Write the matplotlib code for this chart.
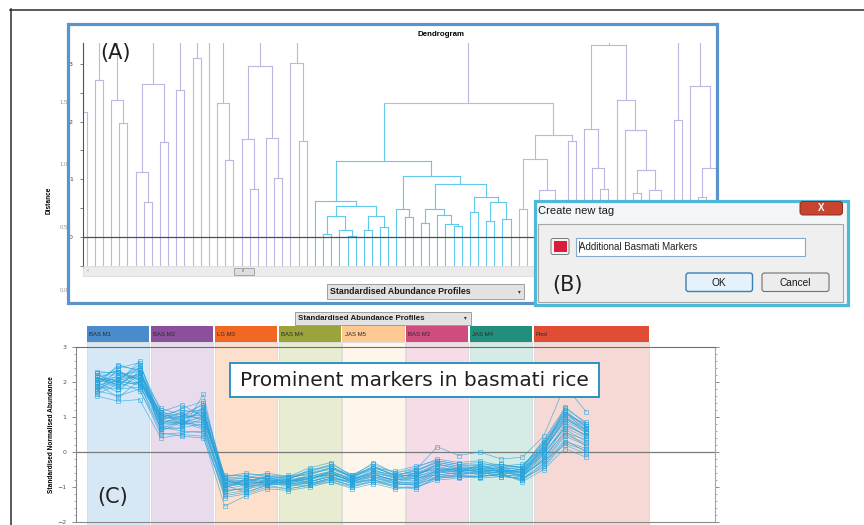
import matplotlib
matplotlib.use("Agg")
import matplotlib.pyplot as plt
import numpy as np
from matplotlib.patches import Rectangle, FancyBboxPatch
from matplotlib.ticker import MultipleLocator, FuncFormatter

# ---------------- data ----------------
# dendrogram: (merge height, left, right); ints are leaf positions, roots continue above the view
cyan_cluster = (1.32,
                (0.63, 28, (0.54, (0.37, (0.05, 29, 30), (0.13, 31, (0.02, 32, 33))),
                            (0.37, (0.13, 34, 35), (0.17, 36, 37)))),
                (1.06, (0.48, 38, (0.35, 39, 40)),
                 (0.92, (0.49, (0.25, 41, 42), (0.38, 43, (0.22, 44, (0.19, 45, 46)))),
                  (0.69, (0.44, 47, 48), (0.61, (0.27, 49, 50), (0.32, 51, 52))))))
right_cluster = (1.77, (1.36, (0.49, 53, 54), (0.81, (0.40, 55, 56), (0.35, 57, 58))),
                 (1.66, 59, 60))
dendro_roots = [
    (2.17, -1, 0),
    (2.72, 1, 2),
    (2.37, 3, (1.98, 4, 5)),
    (2.65, (1.12, 6, (0.60, 7, 8)), (1.65, 9, 10)),
    (2.54, 11, 12),
    (3.11, 13, 14),
    15,
    (2.33, 16, (1.33, 17, 18)),
    (2.96, (1.70, 19, (0.84, 20, 21)), (1.71, 22, (1.03, 23, 24))),
    (3.02, 25, (1.67, 26, 27)),
    (2.32, cyan_cluster, right_cluster),
    (3.33, (1.87, 61, (1.19, 62, (0.84, 63, 64))),
     (2.37, 65, (1.85, 66, (1.16, (0.77, 67, 68), (0.81, 69, (0.30, 70, 71)))))),
    (2.02, 72, 73),
    (2.62, 74, (1.19, (0.70, 75, 76), (0.50, 77, 78))),
]
highlight_leaves = range(28, 53)
dendro_ticks = [3, 2, 1, 0]

groups = ["BAS M1", "BAS M2", "LG M3", "BAS M4", "JAS M5", "BAS M3", "JAS M4", "Pool"]
group_edges = [0, 3, 6, 9, 12, 15, 18, 21, 26.5]
header_colors = ["#4a8bcb", "#8b4f9d", "#f26722", "#9aa43a", "#fdc891", "#cf4d7e", "#218f7c", "#e14c35"]
band_colors = ["#d6e8f5", "#e8dcec", "#fde0cc", "#e8ecd0", "#fef6ea", "#f5dce6", "#d4ebe6", "#f6d9d4"]
profile_ticks = [3, 2, 1, 0, -1, -2]

profiles = [
    [2.10, 2.05, 2.20, 0.95, 1.00, 1.05, -0.85, -0.80, -0.75, -0.80, -0.70, -0.55, -0.75, -0.60, -0.70, -0.65, -0.40, -0.55, -0.50, -0.55, -0.60, 0.05, 0.95, 0.60],
    [1.95, 2.30, 2.05, 1.10, 0.90, 1.20, -0.95, -0.90, -0.85, -0.90, -0.75, -0.65, -0.80, -0.55, -0.75, -0.70, -0.55, -0.45, -0.60, -0.50, -0.70, 0.20, 1.10, 0.75],
    [2.25, 1.85, 2.45, 0.80, 1.05, 0.95, -0.75, -1.00, -0.90, -0.75, -0.85, -0.70, -0.90, -0.75, -0.85, -0.80, -0.65, -0.60, -0.35, -0.60, -0.55, -0.10, 0.80, 0.45],
    [1.80, 2.10, 1.95, 1.20, 0.75, 1.30, -1.05, -0.75, -0.95, -0.85, -0.65, -0.45, -0.70, -0.45, -0.65, -0.55, -0.30, -0.40, -0.45, -0.35, -0.45, 0.35, 1.25, 0.85],
    [2.00, 1.70, 2.35, 0.60, 0.85, 0.75, -1.20, -1.10, -0.80, -0.95, -0.90, -0.80, -0.95, -0.85, -0.95, -0.90, -0.75, -0.70, -0.70, -0.65, -0.80, -0.30, 0.45, 0.20],
    [1.70, 2.40, 2.55, 0.95, 1.25, 1.45, -0.70, -0.65, -0.65, -0.70, -0.55, -0.35, -0.65, -0.35, -0.60, -0.45, -0.20, -0.30, -0.25, -0.40, -0.35, 0.10, 1.00, 0.65],
    [2.20, 2.00, 1.75, 0.70, 0.60, 0.55, -1.30, -1.20, -1.00, -1.05, -0.95, -0.75, -1.00, -0.80, -1.00, -1.05, -0.70, -0.65, -0.75, -0.70, -0.75, -0.45, 0.25, 0.05],
    [1.60, 1.45, 1.50, 0.40, 0.50, 0.45, -1.55, -1.25, -1.05, -1.10, -1.00, -0.85, -1.05, -0.90, -1.05, -1.00, -0.80, -0.75, -0.70, -0.60, -0.85, -0.50, 0.10, -0.15],
    [2.05, 2.15, 2.10, 1.00, 1.10, 0.90, -0.80, -0.85, -0.70, -0.75, -0.60, -0.50, -0.70, -0.50, -0.75, -0.60, -0.45, -0.50, -0.55, -0.60, -0.65, -0.20, 0.75, 0.50],
    [1.90, 2.50, 2.30, 0.85, 0.95, 1.15, -0.90, -0.95, -0.95, -0.65, -0.80, -0.60, -0.85, -0.65, -0.80, -0.75, -0.60, -0.55, -0.65, -0.55, -0.50, 0.00, 0.65, 0.30],
    [2.15, 1.90, 2.00, 1.15, 1.35, 1.00, -0.65, -0.70, -0.80, -0.80, -0.50, -0.40, -0.75, -0.40, -0.70, -0.50, 0.15, -0.10, 0.00, -0.20, -0.15, 0.45, 1.90, 1.15],
    [1.75, 2.00, 2.60, 0.75, 0.65, 1.65, -1.00, -0.80, -0.85, -1.00, -0.85, -0.70, -0.90, -0.70, -0.90, -0.85, -0.50, -0.60, -0.60, -0.65, -0.70, -0.05, 1.30, 0.80],
    [2.30, 2.25, 2.15, 0.90, 0.80, 0.85, -1.10, -1.05, -0.75, -0.85, -0.70, -0.55, -0.80, -0.60, -0.85, -0.95, -0.60, -0.45, -0.50, -0.45, -0.60, -0.15, 0.55, 0.35],
    [1.85, 1.80, 1.85, 1.05, 1.00, 1.25, -0.85, -0.90, -0.70, -0.90, -0.75, -0.65, -0.80, -0.55, -0.65, -0.70, -0.35, -0.50, -0.40, -0.50, -0.55, 0.15, 1.05, 0.70],
    [2.10, 2.35, 1.95, 0.55, 0.45, 0.40, -1.15, -1.00, -0.90, -0.95, -0.95, -0.80, -0.95, -0.75, -0.90, -0.85, -0.70, -0.70, -0.65, -0.70, -0.75, -0.35, 0.35, 0.00],
    [1.65, 1.95, 2.25, 1.25, 1.05, 1.35, -0.75, -0.75, -0.60, -0.70, -0.65, -0.45, -0.65, -0.45, -0.55, -0.40, -0.25, -0.35, -0.30, -0.45, -0.40, 0.25, 1.15, 0.60],
    [2.00, 2.10, 2.40, 0.65, 0.90, 0.70, -0.95, -1.15, -0.95, -0.80, -0.90, -0.75, -0.85, -0.80, -0.95, -0.90, -0.55, -0.65, -0.55, -0.60, -0.65, -0.25, 0.50, 0.25],
    [1.95, 1.55, 2.05, 0.85, 0.75, 0.95, -0.90, -0.85, -0.90, -0.85, -0.75, -0.60, -0.75, -0.65, -0.80, -0.65, -0.45, -0.55, -0.45, -0.55, -0.50, 0.05, 0.90, 0.55],
    [2.20, 2.20, 2.30, 1.00, 0.95, 1.10, -0.70, -0.60, -0.70, -0.70, -0.45, -0.30, -0.70, -0.30, -0.60, -0.50, -0.30, -0.40, -0.35, -0.35, -0.45, 0.30, 1.20, 0.70],
    [1.80, 2.05, 1.90, 0.75, 0.85, 0.65, -1.05, -0.95, -0.85, -0.90, -0.85, -0.70, -0.85, -0.70, -0.85, -0.75, -0.65, -0.60, -0.60, -0.55, -0.70, -0.25, 0.20, -0.05],
    [2.05, 1.95, 2.25, 1.05, 0.85, 1.00, -0.80, -0.95, -0.80, -0.85, -0.70, -0.60, -0.85, -0.60, -0.75, -0.60, -0.50, -0.50, -0.55, -0.50, -0.60, 0.10, 0.85, 0.45],
    [1.85, 2.20, 2.10, 0.90, 1.15, 1.20, -0.90, -0.80, -0.75, -0.95, -0.80, -0.55, -0.80, -0.50, -0.70, -0.65, -0.35, -0.45, -0.50, -0.45, -0.50, 0.20, 1.00, 0.55],
    [2.15, 1.80, 2.20, 0.65, 0.70, 0.80, -1.10, -1.05, -0.95, -0.90, -0.90, -0.75, -0.90, -0.80, -0.90, -0.95, -0.70, -0.65, -0.60, -0.65, -0.70, -0.20, 0.60, 0.15],
    [1.90, 2.05, 2.50, 1.15, 1.00, 1.40, -0.75, -0.70, -0.75, -0.75, -0.60, -0.45, -0.70, -0.40, -0.65, -0.55, -0.25, -0.35, -0.40, -0.40, -0.45, 0.25, 1.10, 0.80],
    [2.25, 2.30, 2.05, 0.80, 0.90, 0.85, -1.00, -0.90, -0.85, -0.80, -0.85, -0.65, -0.80, -0.70, -0.80, -0.75, -0.55, -0.55, -0.50, -0.55, -0.55, -0.05, 0.70, 0.40],
    [1.75, 1.60, 1.80, 0.50, 0.55, 0.60, -1.25, -1.15, -0.95, -1.05, -0.95, -0.85, -1.00, -0.85, -1.00, -1.00, -0.75, -0.70, -0.70, -0.65, -0.80, -0.40, 0.30, 0.10],
    [2.00, 2.45, 2.35, 1.05, 1.20, 1.10, -0.80, -0.75, -0.70, -0.75, -0.55, -0.40, -0.75, -0.45, -0.65, -0.60, -0.35, -0.45, -0.45, -0.45, -0.50, 0.15, 1.15, 0.75],
    [2.10, 2.00, 1.95, 0.95, 0.80, 1.05, -0.95, -0.85, -0.80, -0.85, -0.75, -0.60, -0.85, -0.65, -0.80, -0.70, -0.50, -0.55, -0.55, -0.50, -0.65, 0.00, 0.95, 0.65],
]

# ---------------- figure ----------------
W, H = 864, 525
UI = "Liberation Sans"
fig = plt.figure(figsize=(W / 100, H / 100), dpi=100)


def px_axes(l, t, r, b, z):
    return fig.add_axes([l / W, 1 - b / H, (r - l) / W, (b - t) / H], zorder=z)


def canvas(z):
    ax = fig.add_axes([0, 0, 1, 1], zorder=z)
    ax.set_xlim(0, W)
    ax.set_ylim(H, 0)
    ax.axis("off")
    return ax


def box(ax, x0, y0, x1, y1, **kw):
    ax.add_patch(Rectangle((x0, y0), x1 - x0, y1 - y0, **kw))


def rbox(ax, x0, y0, x1, y1, r=2, **kw):
    ax.add_patch(FancyBboxPatch((x0, y0), x1 - x0, y1 - y0,
                                boxstyle=f"round,pad=0,rounding_size={r}", **kw))


bg = canvas(0)
fg = canvas(10)

# outer frame
bg.plot([10, W], [9.5, 9.5], color="#2b2b2b", lw=1.1)
bg.plot([10.5, 10.5], [9, H], color="#2b2b2b", lw=1.1)

# leftover labels behind panel A
for yy, s in zip([103, 164.5, 227.5, 290], ["1.5", "1.0", "0.5", "0.0"]):
    bg.text(60, yy, s, fontsize=4.3, color="#9a9a9a", va="center", family=UI, zorder=1)
box(bg, 67.5, 23.5, 716.5, 303, fc="white", ec="none", zorder=2)

# dropdowns
for (x0, y0, x1, y1, fs) in [(326.5, 284, 524, 298.5, 6.3), (294.5, 311.5, 470.5, 324.5, 5.7)]:
    box(bg, x0, y0, x1, y1, fc="#e2e2e2", ec="#9e9e9e", lw=0.7, zorder=3)
    bg.text(x0 + 3, (y0 + y1) / 2 + 0.3, "Standardised Abundance Profiles", fontsize=fs,
            fontweight="bold", family=UI, va="center", color="#1a1a1a", zorder=4)
    bg.text(x1 - 5, (y0 + y1) / 2, "\u25BE", fontsize=4, va="center", ha="center", color="#333", zorder=4)

# ---------------- dendrogram ----------------
dax = px_axes(83, 43, 716, 268, 1)
dax.set_facecolor("none")
LAV, CYAN = "#bbb6e2", "#62c8ec"
BASE, TOP = -0.8, 3.6


def leaves_of(node):
    if isinstance(node, int):
        return [node]
    return leaves_of(node[1]) + leaves_of(node[2])


def draw(node):
    if isinstance(node, int):
        return node, BASE, (CYAN if node in highlight_leaves else LAV)
    h, a, b = node
    xa, ha, ca = draw(a)
    xb, hb, cb = draw(b)
    col = CYAN if all(l in highlight_leaves for l in leaves_of(node)) else LAV
    dax.plot([xa, xa], [ha, h], color=ca, lw=0.8)
    dax.plot([xb, xb], [hb, h], color=cb, lw=0.8)
    dax.plot([xa, xb], [h, h], color=col, lw=0.8)
    return (xa + xb) / 2, h, col


for root in dendro_roots:
    x, h, c = draw(root)
    dax.plot([x, x], [h, TOP], color=c, lw=0.8)

dax.axhline(0, color="#505050", lw=0.9, zorder=5)
dax.set_xlim(-0.45, 77.2)
dax.set_ylim(-0.537, 3.362)
for s in ["top", "right", "bottom"]:
    dax.spines[s].set_visible(False)
dax.spines["left"].set_color("#555555")
dax.spines["left"].set_linewidth(0.8)
dax.set_xticks([])
dax.yaxis.set_major_locator(MultipleLocator(0.5))


def dendro_label(v, pos):
    r = int(round(v))
    return str(r) if abs(v - r) < 1e-6 and r in dendro_ticks else ""


dax.yaxis.set_major_formatter(FuncFormatter(dendro_label))
dax.tick_params(axis="y", length=2.5, width=0.6, color="#666", labelsize=4.5, labelcolor="#444", pad=4.8)
dax.set_ylabel("Distance", fontsize=4.7, fontweight="bold", family=UI)
dax.yaxis.set_label_coords(-0.0474, 0.302)
dax.text(0.5656, 1.0356, "Dendrogram", transform=dax.transAxes, fontsize=5.7,
         fontweight="bold", family=UI, ha="center", va="center")

# ---------------- profiles ----------------
pax = px_axes(76, 347, 715, 522, 1)
pax.set_facecolor("none")
xs = np.arange(len(profiles[0]))
for i, name in enumerate(groups):
    x0 = group_edges[i] - 0.46
    x1 = group_edges[i + 1] - 0.54
    pax.axvspan(x0, x1, ymin=-0.06, ymax=1.0286, fc=band_colors[i], ec="#d4d4d4", lw=0.5,
                clip_on=False, zorder=0)
    pax.add_patch(Rectangle((x0, 1.0286), x1 - x0, 0.0894, transform=pax.get_xaxis_transform(),
                            fc=header_colors[i], ec="none", clip_on=False, zorder=0))
    pax.text(x0 + 0.1, 1.073, name, transform=pax.get_xaxis_transform(), fontsize=4.3,
             family=UI, va="center", color="#2a2a2a", clip_on=False)

pax.axhline(0, color="#7a7a7a", lw=0.9, zorder=1)
for row in profiles:
    pax.plot(xs, row, color="#27a3dc", lw=0.5, alpha=0.75, marker="s", ms=2.5,
             mfc="none", mew=0.5, zorder=2)

pax.set_xlim(-0.99, 29.06)
pax.set_ylim(-2, 3)
pax.set_xticks([])
pax.set_yticks(profile_ticks)
pax.yaxis.set_minor_locator(MultipleLocator(0.2))
pax.tick_params(axis="y", which="major", length=3, width=0.6, color="#777", labelsize=4.5,
                labelcolor="#555", pad=4, right=True)
pax.tick_params(axis="y", which="minor", length=1.6, width=0.5, color="#888", right=True)
pax.spines["top"].set_color("#6e6e6e")
pax.spines["bottom"].set_color("#8a8a8a")
pax.spines["left"].set_color("#8a8a8a")
pax.spines["right"].set_color("#a5a5a5")
for s in pax.spines.values():
    s.set_linewidth(0.8)
pax.set_ylabel("Standardised Normalised Abundance", fontsize=4.7, fontweight="bold", family=UI)
pax.yaxis.set_label_coords(-0.0329, 0.497)

# ---------------- overlays ----------------
box(fg, 67.5, 23.5, 716.5, 303, fc="none", ec="#5b93cc", lw=2.3)

# scrollbar under the dendrogram
box(fg, 83, 266, 716, 276, fc="#ebebeb", ec="#d8d8d8", lw=0.5)
box(fg, 234, 267.5, 253.5, 275, fc="#dedede", ec="#9a9a9a", lw=0.6)
fg.text(243.7, 271.3, "III", fontsize=3, ha="center", va="center", color="#555", family=UI)
fg.text(87.5, 271, "\u2039", fontsize=4, ha="center", va="center", color="#777")

# dialog (B)
box(fg, 534.5, 200.5, 847.5, 304.5, fc="#f3f6f9", ec="#4fb8d8", lw=2.3)
fg.text(538.5, 211.5, "Create new tag", fontsize=8, family=UI, va="center", color="#1a1a1a")
rbox(fg, 800, 201.5, 842.5, 215, r=3, fc="#c8442f", ec="#8e2d1f", lw=0.7)
fg.text(821.3, 208, "X", fontsize=7, fontweight="bold", color="white", ha="center", va="center", family=UI)
box(fg, 538, 223.5, 843, 302, fc="#efefef", ec="#a6a6a6", lw=0.8)
rbox(fg, 551, 238.5, 569, 254.5, r=2, fc="#f4f4f4", ec="#7a7a7a", lw=0.7)
box(fg, 553.5, 241, 566.5, 252, fc="#dc1a3c", ec="none")
box(fg, 575.5, 238, 805, 255.5, fc="white", ec="#85a9c9", lw=0.8)
fg.plot([578.5, 578.5], [241, 252], color="#222", lw=0.5)
fg.text(579, 247, "Additional Basmati Markers", fontsize=7, family=UI, va="center", color="#222")
rbox(fg, 686, 273, 752.5, 291.5, r=2.5, fc="#e5f1fb", ec="#3c7fb1", lw=1)
fg.text(719.2, 282.5, "OK", fontsize=7.3, family=UI, ha="center", va="center", color="#1a1a1a")
rbox(fg, 762, 273, 829, 291.5, r=2.5, fc="#ececec", ec="#707070", lw=0.8)
fg.text(795.5, 282.5, "Cancel", fontsize=7.3, family=UI, ha="center", va="center", color="#1a1a1a")

# annotation box
box(fg, 229.5, 363, 599, 397, fc="white", ec="#1d8cc0", lw=1.3)
fg.text(414, 380.5, "Prominent markers in basmati rice", fontsize=14.5, ha="center",
        va="center", color="#231f20", family="DejaVu Sans")

# panel letters
for x, y, s in [(100, 53, "(A)"), (552, 285, "(B)"), (97, 497.5, "(C)")]:
    fg.text(x, y, s, fontsize=15, va="center", color="#231f20", family="DejaVu Sans")

fig.savefig("out.png", dpi=100)
